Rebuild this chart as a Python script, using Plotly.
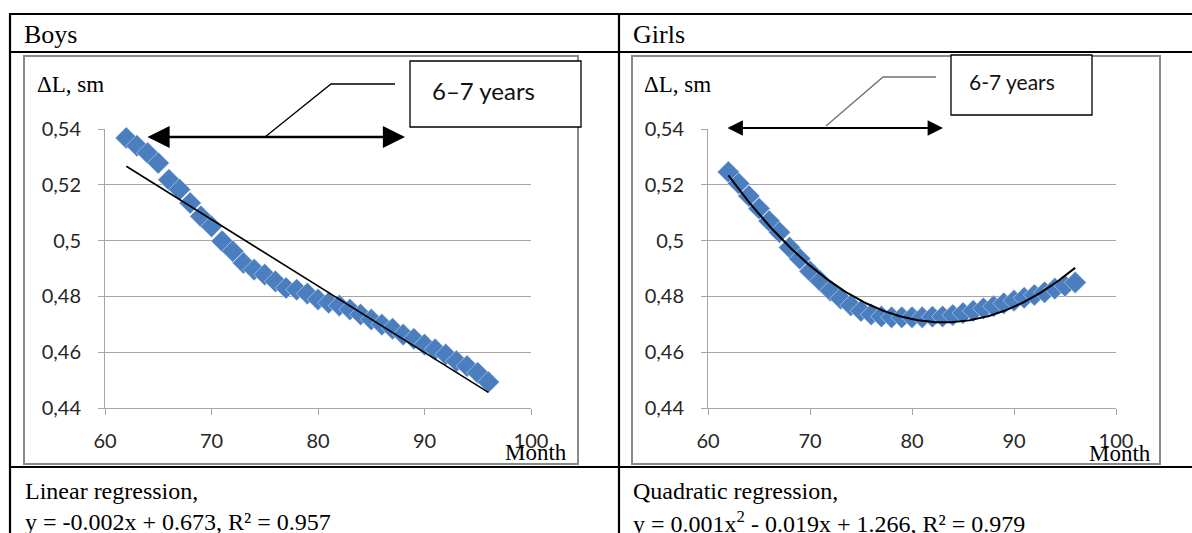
import numpy as np
import plotly.graph_objects as go

# ---------------- data ----------------
months = list(range(62, 97))
boys_dl = [0.5368, 0.5340, 0.5314, 0.5278, 0.5218, 0.5183, 0.5135, 0.5087, 0.5051, 0.4998,
           0.4962, 0.4920, 0.4896, 0.4878, 0.4854, 0.4830, 0.4824, 0.4810, 0.4789, 0.4777,
           0.4767, 0.4753, 0.4735, 0.4717, 0.4699, 0.4684, 0.4663, 0.4648, 0.4627, 0.4610,
           0.4592, 0.4568, 0.4550, 0.4526, 0.4493]
girls_dl = [0.5246, 0.5205, 0.5160, 0.5115, 0.5070, 0.5030, 0.4975, 0.4935, 0.4890, 0.4855,
            0.4820, 0.4792, 0.4768, 0.4748, 0.4735, 0.4728, 0.4725, 0.4725, 0.4725, 0.4725,
            0.4727, 0.4728, 0.4733, 0.4740, 0.4748, 0.4757, 0.4765, 0.4775, 0.4785, 0.4795,
            0.4805, 0.4815, 0.4828, 0.4838, 0.4850]
x_tick_vals = [60, 70, 80, 90, 100]
x_tick_labels = ["60", "70", "80", "90", "100"]
y_tick_vals = [0.44, 0.46, 0.48, 0.50, 0.52, 0.54]
y_tick_labels = ["0,44", "0,46", "0,48", "0,5", "0,52", "0,54"]

W, H = 1192, 533
def X(px):
    return px / W
def Y(py):
    return 1 - py / H

# trend lines fitted from the data
xs = np.linspace(62, 96, 200)
lin = np.polyfit(months, boys_dl, 1)
quad = np.polyfit(months, girls_dl, 2)

BLUE = "#4a7ebf"
GRID = "#a6a6a6"
SANS = "Lato, Carlito, Liberation Sans, sans-serif"
SERIF = "Liberation Serif, Times New Roman, serif"

fig = go.Figure()
fig.add_trace(go.Scatter(x=months, y=boys_dl, mode="markers", xaxis="x", yaxis="y",
                         marker=dict(symbol="diamond", size=17, color=BLUE, line=dict(width=0.5, color="#e4ecf7")),
                         cliponaxis=False, showlegend=False))
fig.add_trace(go.Scatter(x=xs, y=np.polyval(lin, xs), mode="lines", xaxis="x", yaxis="y",
                         line=dict(color="black", width=1.6), showlegend=False))
fig.add_trace(go.Scatter(x=months, y=girls_dl, mode="markers", xaxis="x2", yaxis="y2",
                         marker=dict(symbol="diamond", size=17, color=BLUE, line=dict(width=0.5, color="#e4ecf7")),
                         cliponaxis=False, showlegend=False))
fig.add_trace(go.Scatter(x=xs, y=np.polyval(quad, xs), mode="lines", xaxis="x2", yaxis="y2",
                         line=dict(color="black", width=2), showlegend=False))

def xax(dom, anchor):
    return dict(domain=dom, range=[60, 100], tickvals=x_tick_vals, ticktext=x_tick_labels,
                showgrid=False, zeroline=False, showline=True, linecolor=GRID, linewidth=1,
                ticks="outside", ticklen=6, tickcolor=GRID, anchor=anchor,
                ticklabelstandoff=9, tickfont=dict(family=SANS, size=20, color="#262626"))
def yax(anchor):
    return dict(domain=[Y(408), Y(129)], range=[0.44, 0.54], tickvals=y_tick_vals, ticktext=y_tick_labels,
                showgrid=True, gridcolor=GRID, gridwidth=1, zeroline=False, showline=True,
                linecolor=GRID, linewidth=1, ticks="outside", ticklen=6, tickcolor=GRID,
                anchor=anchor, ticklabelstandoff=13, tickfont=dict(family=SANS, size=20, color="#262626"))

fig.update_layout(
    width=W, height=H, margin=dict(l=0, r=0, t=0, b=0, autoexpand=False),
    paper_bgcolor="white", plot_bgcolor="white",
    xaxis=xax([X(105), X(531)], "y"),
    yaxis=yax("x"),
    xaxis2=xax([X(708), X(1116)], "y2"),
    yaxis2=yax("x2"),
)

shapes = []
# table lines
for (x0, y0, x1, y1) in [(9, 14, 1192, 14), (9, 52, 1192, 52), (9, 467, 1192, 467),
                         (10, 14, 10, 533), (619, 14, 619, 533)]:
    shapes.append(dict(type="line", xref="paper", yref="paper", x0=X(x0), y0=Y(y0), x1=X(x1), y1=Y(y1),
                       line=dict(color="black", width=2.2)))
# chart frames
for (x0, y0, x1, y1) in [(24, 56, 578, 464), (632, 56, 1160, 464)]:
    shapes.append(dict(type="rect", xref="paper", yref="paper", x0=X(x0), y0=Y(y0), x1=X(x1), y1=Y(y1),
                       line=dict(color="#8a8a8a", width=2)))
# callout boxes
shapes.append(dict(type="rect", xref="paper", yref="paper", x0=X(410), y0=Y(61), x1=X(581), y1=Y(127),
                   line=dict(color="black", width=1.3), fillcolor="white"))
shapes.append(dict(type="rect", xref="paper", yref="paper", x0=X(951), y0=Y(55), x1=X(1092), y1=Y(115),
                   line=dict(color="black", width=1.3), fillcolor="white"))
# leader lines
shapes.append(dict(type="path", xref="paper", yref="paper",
                   path=f"M {X(395)} {Y(84)} L {X(331)} {Y(84)} L {X(265)} {Y(137)}",
                   line=dict(color="black", width=1.3)))
shapes.append(dict(type="path", xref="paper", yref="paper",
                   path=f"M {X(936)} {Y(77)} L {X(883)} {Y(77)} L {X(826)} {Y(126)}",
                   line=dict(color="#707070", width=1.3)))
fig.update_layout(shapes=shapes)

ann = []
def text(x, y, s, size, family=SERIF, xanchor="left", color="black"):
    ann.append(dict(x=X(x), y=Y(y), xref="paper", yref="paper", text=s, showarrow=False,
                    xanchor=xanchor, yanchor="middle", font=dict(family=family, size=size, color=color)))

text(22, 34, "Boys", 26)
text(631, 34, "Girls", 26)
text(35, 84, "ΔL, sm", 23)
text(642, 84, "ΔL, sm", 23)
text(503, 452, "Month", 23)
text(1087, 453, "Month", 23)
text(483, 90, "6–7 years", 24, family=SANS, xanchor="center", color="#111")
text(1012, 81, "6-7 years", 21, family=SANS, xanchor="center", color="#111")
text(23, 491, "Linear regression,", 24)
text(23, 522, "y = -0.002x + 0.673, R² = 0.957", 24)
text(631, 491, "Quadratic regression,", 24)
text(631, 522, "y = 0.001x<sup>2</sup> - 0.019x + 1.266, R² = 0.979", 24)

# double-headed arrows for the 6-7 years span (pixel offsets)
ann.append(dict(x=X(405), y=Y(137), xref="paper", yref="paper", ax=-(405 - 146), ay=0,
                axref="pixel", ayref="pixel", text="", showarrow=True, arrowside="end+start",
                arrowhead=2, arrowsize=1.7, arrowwidth=2.6, arrowcolor="black"))
ann.append(dict(x=X(943), y=Y(128), xref="paper", yref="paper", ax=-(943 - 726), ay=0,
                axref="pixel", ayref="pixel", text="", showarrow=True, arrowside="end+start",
                arrowhead=2, arrowsize=1.4, arrowwidth=2.2, arrowcolor="black"))
fig.update_layout(annotations=ann)

fig.write_html("out.html", config={"displayModeBar": False},
               post_script="document.body.style.margin='0';document.body.style.overflow='hidden';")
